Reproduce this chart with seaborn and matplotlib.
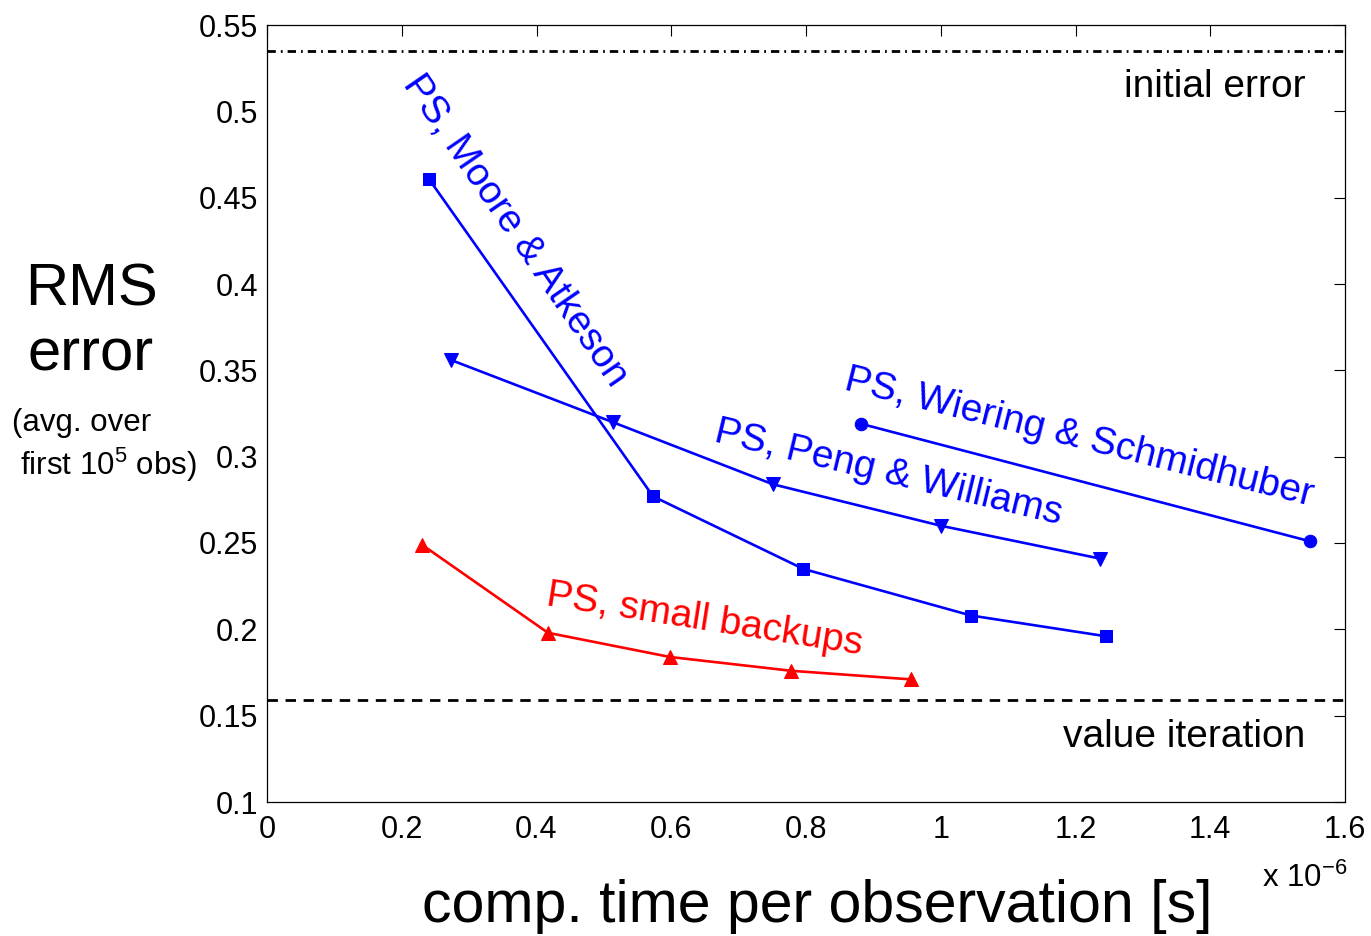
import matplotlib
matplotlib.use("Agg")
import matplotlib.pyplot as plt
import seaborn as sns
import pandas as pd

# Data (x in units of 1e-6 s)
moore_x = [0.240, 0.573, 0.796, 1.045, 1.245]
moore_y = [0.461, 0.277, 0.235, 0.208, 0.196]
peng_x = [0.273, 0.513, 0.751, 1.000, 1.236]
peng_y = [0.356, 0.320, 0.284, 0.260, 0.241]
wiering_x = [0.882, 1.548]
wiering_y = [0.319, 0.251]
small_x = [0.230, 0.417, 0.598, 0.778, 0.956]
small_y = [0.249, 0.198, 0.184, 0.176, 0.171]
initial_error = 0.535
value_iteration = 0.159

x_ticks = [0, 0.2, 0.4, 0.6, 0.8, 1, 1.2, 1.4, 1.6]
x_tick_labels = ["0", "0.2", "0.4", "0.6", "0.8", "1", "1.2", "1.4", "1.6"]
y_ticks = [0.1, 0.15, 0.2, 0.25, 0.3, 0.35, 0.4, 0.45, 0.5, 0.55]
y_tick_labels = ["0.1", "0.15", "0.2", "0.25", "0.3", "0.35", "0.4", "0.45", "0.5", "0.55"]

sns.set_style("white")
plt.rcParams['font.family'] = ['Liberation Sans', 'DejaVu Sans']
plt.rcParams['text.color'] = 'black'
plt.rcParams['xtick.color'] = 'black'
plt.rcParams['ytick.color'] = 'black'
plt.rcParams['lines.scale_dashes'] = False
plt.rcParams['mathtext.fontset'] = 'custom'
plt.rcParams['mathtext.rm'] = 'Liberation Sans'
plt.rcParams['mathtext.it'] = 'Liberation Sans'

fig = plt.figure(figsize=(13.71, 9.36), dpi=100)
ax = fig.add_axes([267/1371, 1-802/936, (1345-267)/1371, (802-25)/936])

blue = (0, 0, 1)
red = (1, 0, 0)
lw = 1.9
series = [
    (moore_x, moore_y, 's', blue, 8),
    (peng_x, peng_y, 'v', blue, 10),
    (wiering_x, wiering_y, 'o', blue, 9),
    (small_x, small_y, '^', red, 10),
]
for xs, ys, m, c, ms in series:
    df = pd.DataFrame({"x": xs, "y": ys})
    sns.lineplot(data=df, x="x", y="y", ax=ax, color=c, marker=m,
                 markersize=ms, linewidth=lw, markeredgecolor=c,
                 markerfacecolor=c, sort=False)

l1 = ax.axhline(initial_error, color='black', linewidth=2.0)
l1.set_dashes((6, 3.6, 1.3, 3.6))
l2 = ax.axhline(value_iteration, color='black', linewidth=2.0)
l2.set_dashes((7.5, 5.5))

ax.set_xlim(0, 1.6)
ax.set_ylim(0.1, 0.55)
ax.set_xticks(x_ticks)
ax.set_xticklabels(x_tick_labels)
ax.set_yticks(y_ticks)
ax.set_yticklabels(y_tick_labels)
ax.tick_params(direction='in', length=8, width=0.8, labelsize=22,
               top=True, right=True)
ax.tick_params(axis='x', pad=9)
ax.tick_params(axis='y', pad=6.5)
for s in ax.spines.values():
    s.set_linewidth(0.9)
    s.set_color('black')
ax.set_xlabel("")
ax.set_ylabel("")

# Annotations
fs = 28
ax.text(0.368, 0.431, "PS, Moore & Atkeson", color=blue, fontsize=fs,
        rotation=-55.5, ha='center', va='center', rotation_mode='anchor')
ax.text(1.205, 0.311, "PS, Wiering & Schmidhuber", color=blue, fontsize=fs,
        rotation=-14, ha='center', va='center', rotation_mode='anchor')
ax.text(0.922, 0.2905, "PS, Peng & Williams", color=blue, fontsize=fs,
        rotation=-13.5, ha='center', va='center', rotation_mode='anchor')
ax.text(0.650, 0.2054, "PS, small backups", color=red, fontsize=fs,
        rotation=-8.9, ha='center', va='center', rotation_mode='anchor')
ax.text(1.541, 0.514, "initial error", color='black', fontsize=28,
        ha='right', va='center')
ax.text(1.541, 0.1377, "value iteration", color='black', fontsize=28,
        ha='right', va='center')

fig.text(91/1371, 1-290/936, "RMS", fontsize=43, ha='center', va='center')
fig.text(91/1371, 1-355/936, "error", fontsize=43, ha='center', va='center')
fig.text(82/1371, 1-423/936, "(avg. over", fontsize=22.5, ha='center',
         va='center')
fig.text(108/1371, 1-465/936, "first 10$^5$ obs)", fontsize=22.5,
         ha='center', va='center')
fig.text(817/1371, 1-907/936, "comp. time per observation [s]", fontsize=42.5,
         ha='center', va='center')
fig.text(1262/1371, 1-887/936, "x 10$^{-6}$", fontsize=22.5, ha='left',
         va='baseline')

fig.savefig("out.png", dpi=100)
